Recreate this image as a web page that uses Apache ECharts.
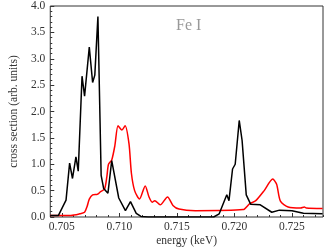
<!DOCTYPE html>
<html>
<head>
<meta charset="utf-8">
<script src="https://cdn.jsdelivr.net/npm/echarts@6/dist/echarts.min.js"></script>
<style>html,body{margin:0;padding:0;background:#fff}#c{width:332px;height:252px}</style>
</head>
<body>
<div id="c"></div>
<script>
const blackE = [0.7040,0.70471,0.70537,0.70568,0.70593,0.70623,0.70643,0.70676,0.70698,0.70739,0.70768,0.70787,0.70814,0.70842,0.70864,0.70901,0.70934,0.70995,0.71053,0.71097,0.71147,0.71188,0.7125,0.7182,0.71868,0.71934,0.71953,0.71984,0.72007,0.72042,0.72067,0.72103,0.72142,0.72225,0.72325,0.72392,0.72500,0.72600,0.72766];
const blackY = [0.03,0.03,0.32,1.02,0.73,1.14,0.87,2.67,2.29,3.22,2.55,2.69,3.80,0.79,0.54,0.45,1.07,0.36,0.12,0.29,0.07,0.01,0.0,0.0,0.06,0.42,0.31,0.91,1.0,1.83,1.45,0.42,0.24,0.23,0.09,0.13,0.12,0.07,0.06];
const redE = [0.7040,0.70579,0.70656,0.70698,0.7072,0.70739,0.70768,0.70809,0.70837,0.70872,0.70892,0.70906,0.70934,0.70961,0.70989,0.71022,0.71050,0.71084,0.71105,0.71133,0.71175,0.71225,0.71258,0.71286,0.71308,0.71355,0.71419,0.71466,0.71519,0.71660,0.72076,0.72131,0.72186,0.72259,0.72333,0.72367,0.72400,0.72467,0.72575,0.72608,0.72625,0.72766];
const redY = [0.03,0.03,0.06,0.09,0.2,0.34,0.42,0.43,0.48,0.53,0.77,1.0,1.08,1.35,1.73,1.65,1.73,1.39,0.83,0.5,0.34,0.59,0.38,0.28,0.31,0.23,0.38,0.22,0.15,0.12,0.14,0.25,0.31,0.5,0.72,0.62,0.3,0.19,0.17,0.19,0.17,0.16];
const xMajor = [0.705,0.710,0.715,0.720,0.725];
const xMin = 0.704, xMax = 0.7277;
const font = 'Liberation Serif';

const chart = echarts.init(document.getElementById('c'));
chart.setOption({
  animation:false,
  grid:{left:38,top:6,right:9,bottom:30,show:true,borderColor:'#333',borderWidth:1},
  title:{text:'Fe I',left:171,top:13,textStyle:{fontFamily:font,fontSize:16,fontWeight:'normal',color:'#999'}},
  xAxis:[{
    type:'value',min:xMin,max:xMax,interval:0.001,
    axisLine:{show:false},splitLine:{show:false},
    axisTick:{inside:true,length:2,lineStyle:{color:'#333'}},
    axisLabel:{show:false},
    name:'energy (keV)',nameLocation:'middle',nameGap:18,
    nameTextStyle:{fontFamily:font,fontSize:11.5,color:'#333'}
  },{
    type:'value',min:xMin,max:xMax,position:'bottom',
    axisLine:{show:false},splitLine:{show:false},
    axisTick:{inside:true,length:4,customValues:xMajor,lineStyle:{color:'#333'}},
    axisLabel:{customValues:xMajor,margin:4,fontFamily:font,fontSize:11.5,color:'#333',formatter:v=>v.toFixed(3)}
  }],
  yAxis:{
    type:'value',min:0,max:4,interval:0.5,
    axisLine:{show:false},splitLine:{show:false},
    axisTick:{inside:true,length:4,lineStyle:{color:'#333'}},
    minorTick:{show:true,splitNumber:5,length:2,lineStyle:{color:'#333'}},
    axisLabel:{margin:5,fontFamily:font,fontSize:11.5,color:'#333',formatter:v=>v.toFixed(1)},
    name:'cross section (arb. units)',nameLocation:'middle',nameGap:27,
    nameTextStyle:{fontFamily:font,fontSize:11.5,color:'#333'}
  },
  series:[{
    type:'line',xAxisIndex:0,data:redE.map((e,i)=>[e,redY[i]]),smooth:0.25,showSymbol:false,
    lineStyle:{color:'#ff0000',width:1.5}
  },{
    type:'line',xAxisIndex:0,data:blackE.map((e,i)=>[e,blackY[i]]),showSymbol:false,
    lineStyle:{color:'#000',width:1.5}
  }]
});
</script>
</body>
</html>
